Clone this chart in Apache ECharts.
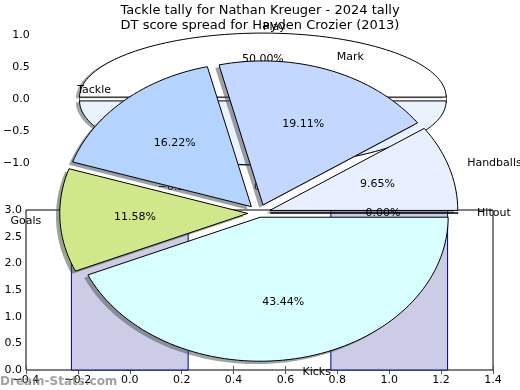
<!DOCTYPE html>
<html><head><meta charset="utf-8">
<script src="https://cdn.jsdelivr.net/npm/echarts@6/dist/echarts.min.js"></script>
<style>html,body{margin:0;padding:0;background:#fff}#c{width:520px;height:390px}</style>
</head><body><div id="c"></div>
<script>
// ---- Foreground pie: Tackle tally for Nathan Kreuger (percent shares) ----
const pieCategories = ['Hitout', 'Handballs', 'Mark', 'Tackle', 'Goals', 'Kicks'];
const pieValues = [0.00, 9.65, 19.11, 16.22, 11.58, 43.44];
// ---- Background pie: DT score spread for Hayden Crozier (2013) ----
const bgCategories = ['Play', ''];
const bgValues = [50, 50];
// ---- Bar chart ----
const barX = [0, 1];
const barValues = [3, 3];
// ---- Tick values ----
const bgTickValues = [-1, -0.5, 0, 0.5, 1];

// styles / layout constants
const pieExplode = [0.06, 0.06, 0.06, 0.06, 0.06, 0.03];
const pieColors = ['#ffffff', '#e8f0ff', '#c4d8ff', '#b4d4ff', '#d0e88a', '#d8ffff'];
const bgExplode = [0.03, 0.03];
const bgColors = ['#ffffff', '#eaf2fe'];
const BAR_WIDTH = 0.45;
const FONT = '"DejaVu Sans", sans-serif';
const FG = {cx: 259, cy: 213, rx: 188, ry: 144};

function fmt(v) { return (v < 0 ? '\u2212' : '') + Math.abs(v).toFixed(1); }

function geom(values, explode, i) {
  const total = values.reduce((a, b) => a + b, 0);
  let start = 0;
  for (let k = 0; k < i; k++) start += values[k] / total * 360;
  const sweep = values[i] / total * 360;
  const mid = (start + sweep / 2) * Math.PI / 180;
  return {start, sweep, mid, ox: explode[i] * Math.cos(mid), oy: explode[i] * Math.sin(mid), pct: values[i] / total * 100};
}
function pts(api, g, dx, dy) {
  const out = [api.coord([g.ox + dx, g.oy + dy])];
  const n = Math.max(2, Math.ceil(g.sweep / 2));
  for (let j = 0; j <= n; j++) {
    const a = (g.start + g.sweep * j / n) * Math.PI / 180;
    out.push(api.coord([g.ox + dx + Math.cos(a), g.oy + dy + Math.sin(a)]));
  }
  return out;
}
function shade(hex) {
  const n = parseInt(hex.slice(1), 16);
  const r = Math.round(((n >> 16) & 255) * 0.3), g = Math.round(((n >> 8) & 255) * 0.3), b = Math.round((n & 255) * 0.3);
  return 'rgba(' + r + ',' + g + ',' + b + ',0.5)';
}
function pieSeries(ai, values, labels, explode, colors, z) {
  const data = values.map((v, i) => i);
  const base = {type: 'custom', xAxisIndex: ai, yAxisIndex: ai, silent: true, animation: false, data: data};
  return [
    Object.assign({}, base, {z: z, renderItem: (p, api) => {
      const g = geom(values, explode, p.dataIndex);
      return {type: 'polygon', shape: {points: pts(api, g, -0.02, -0.02)}, style: {fill: shade(colors[p.dataIndex]), stroke: null}};
    }}),
    Object.assign({}, base, {z: z + 1, renderItem: (p, api) => {
      const g = geom(values, explode, p.dataIndex);
      return {type: 'polygon', shape: {points: pts(api, g, 0, 0)}, style: {fill: colors[p.dataIndex], stroke: '#000', lineWidth: 1}};
    }}),
    Object.assign({}, base, {z: z + 2, renderItem: (p, api) => {
      const i = p.dataIndex;
      const g = geom(values, explode, i);
      const c = Math.cos(g.mid), s = Math.sin(g.mid);
      const lp = api.coord([g.ox + 1.1 * c, g.oy + 1.1 * s]);
      const pp = api.coord([g.ox + 0.6 * c, g.oy + 0.6 * s]);
      const ch = [{type: 'text', x: pp[0], y: pp[1], style: {text: g.pct.toFixed(2) + '%', font: '11px ' + FONT, fill: '#000', align: 'center', verticalAlign: 'middle'}}];
      if (labels[i]) ch.push({type: 'text', x: lp[0], y: lp[1], style: {text: labels[i], font: '11px ' + FONT, fill: '#000', align: c > 0 ? 'left' : 'right', verticalAlign: 'middle'}});
      return {type: 'group', children: ch};
    }})
  ];
}

const tick = {show: true, inside: true, length: 4, lineStyle: {color: '#555', width: 1}};
const lab = {color: '#000', fontSize: 11, fontFamily: FONT};

const chart = echarts.init(document.getElementById('c'), null, {renderer: 'canvas'});
chart.setOption({
  animation: false,
  backgroundColor: '#fff',
  title: {text: 'Tackle tally for Nathan Kreuger - 2024 tally\nDT score spread for Hayden Crozier (2013)', left: 'center', top: 3, padding: 0,
    textStyle: {fontSize: 13, fontWeight: 'normal', color: '#000', fontFamily: FONT, lineHeight: 15, align: 'center'}},
  graphic: [{type: 'text', left: 0, bottom: 2, z: 100, style: {text: 'Dream-Stats.com', font: 'bold 12px ' + FONT, fill: 'rgba(120,120,120,0.7)'}}],
  grid: [
    {left: 26, top: 19, width: 466, height: 160, show: false},
    {left: 26, top: 210, width: 467, height: 160, show: true, borderColor: '#000', borderWidth: 1, backgroundColor: 'rgba(0,0,0,0)'},
    {left: 0, top: 0, width: 520, height: 390, show: false}
  ],
  xAxis: [
    {gridIndex: 0, type: 'value', min: -1.25, max: 1.25, position: 'bottom', axisLine: {show: false}, splitLine: {show: false},
      axisTick: Object.assign({customValues: bgTickValues}, tick), axisLabel: Object.assign({customValues: bgTickValues, margin: 3, formatter: fmt}, lab)},
    {gridIndex: 0, type: 'value', min: -1.25, max: 1.25, position: 'top', axisLine: {show: false}, splitLine: {show: false},
      axisTick: Object.assign({customValues: bgTickValues}, tick), axisLabel: {show: false}},
    {gridIndex: 1, type: 'value', min: -0.4, max: 1.4, interval: 0.2, position: 'bottom', axisLine: {show: false}, splitLine: {show: false},
      axisTick: tick, axisLabel: Object.assign({margin: 5, formatter: fmt}, lab)},
    {gridIndex: 1, type: 'value', min: -0.4, max: 1.4, interval: 0.2, position: 'top', axisLine: {show: false}, splitLine: {show: false},
      axisTick: tick, axisLabel: {show: false}},
    {gridIndex: 2, type: 'value', min: -FG.cx / FG.rx, max: (520 - FG.cx) / FG.rx, show: false}
  ],
  yAxis: [
    {gridIndex: 0, type: 'value', min: -1.25, max: 1.25, position: 'left', axisLine: {show: false}, splitLine: {show: false},
      axisTick: Object.assign({customValues: bgTickValues}, tick), axisLabel: Object.assign({customValues: bgTickValues, margin: 4, formatter: fmt}, lab)},
    {gridIndex: 0, type: 'value', min: -1.25, max: 1.25, position: 'right', axisLine: {show: false}, splitLine: {show: false},
      axisTick: Object.assign({customValues: bgTickValues}, tick), axisLabel: {show: false}},
    {gridIndex: 1, type: 'value', min: 0, max: 3, interval: 0.5, position: 'left', axisLine: {show: false}, splitLine: {show: false},
      axisTick: tick, axisLabel: Object.assign({margin: 4, formatter: fmt}, lab)},
    {gridIndex: 1, type: 'value', min: 0, max: 3, interval: 0.5, position: 'right', axisLine: {show: false}, splitLine: {show: false},
      axisTick: tick, axisLabel: {show: false}},
    {gridIndex: 2, type: 'value', min: -(390 - FG.cy) / FG.ry, max: FG.cy / FG.ry, show: false}
  ],
  series: [].concat(
    pieSeries(0, bgValues, bgCategories, bgExplode, bgColors, 1),
    [{type: 'custom', xAxisIndex: 2, yAxisIndex: 2, z: 5, silent: true, data: barX.map((x, i) => [x, barValues[i]]),
      encode: {x: 0, y: 1},
      renderItem: (p, api) => {
        const x = api.value(0), v = api.value(1);
        const a = api.coord([x - BAR_WIDTH / 2, 0]);
        const b = api.coord([x + BAR_WIDTH / 2, v]);
        return {type: 'rect', shape: {x: a[0], y: b[1], width: b[0] - a[0], height: a[1] - b[1]},
          style: {fill: '#ccccE6', stroke: '#000080', lineWidth: 1}};
      }}],
    pieSeries(4, pieValues, pieCategories, pieExplode, pieColors, 10)
  )
});
</script></body></html>
